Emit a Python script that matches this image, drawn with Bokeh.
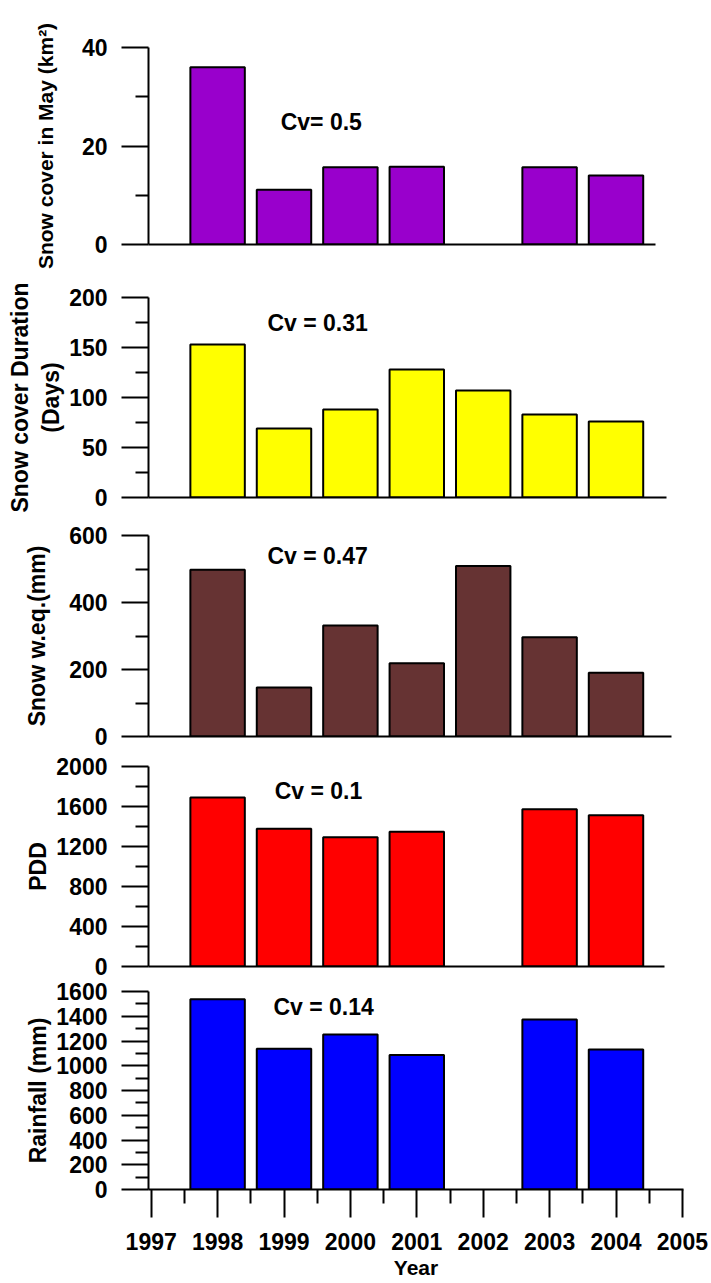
from bokeh.plotting import figure
from bokeh.layouts import column
from bokeh.models import FixedTicker, Label, Range1d
from bokeh.embed import file_html
from bokeh.resources import INLINE

# ---------------- data ----------------
snow_may_years = [1998, 1999, 2000, 2001, 2003, 2004]
snow_may = [36.0, 11.1, 15.7, 15.8, 15.7, 14.0]

duration_years = [1998, 1999, 2000, 2001, 2002, 2003, 2004]
duration = [153, 69, 88, 128, 107, 83, 76]

swe_years = [1998, 1999, 2000, 2001, 2002, 2003, 2004]
swe = [498, 146, 331, 219, 509, 296, 190]

pdd_years = [1998, 1999, 2000, 2001, 2003, 2004]
pdd = [1690, 1377, 1293, 1347, 1573, 1513]

rain_years = [1998, 1999, 2000, 2001, 2003, 2004]
rain = [1538, 1137, 1252, 1086, 1373, 1132]

cv_texts = ["Cv= 0.5", "Cv = 0.31", "Cv = 0.47", "Cv = 0.1", "Cv = 0.14"]
y_labels = ["Snow cover in May (km\u00b2)", "Snow cover Duration\n(Days)",
            "Snow w.eq.(mm)", "PDD", "Rainfall (mm)"]
year_ticks = [1997, 1998, 1999, 2000, 2001, 2002, 2003, 2004, 2005]
x_label = "Year"

# ---------------- layout / style ----------------
FONT = "Liberation Sans"
PX0 = 150.7      # pixel of 1997
PXY = 66.4       # pixels per year
LEFT = 148       # common frame left (px)
RIGHT = 28       # common right border (px)

panels = [
    dict(yrs=snow_may_years, vals=snow_may, color="#9900CC", ymax=40, major=20, minor=10,
         end_px=655, top=47, fh=197, bot=34, als=22, lfs="21px", cvx=1998.95, cvy=24.8),
    dict(yrs=duration_years, vals=duration, color="#FFFF00", ymax=200, major=50, minor=25,
         end_px=666, top=19, fh=200, bot=18, als=2, lfs="23px", cvx=1998.75, cvy=175),
    dict(yrs=swe_years, vals=swe, color="#663333", ymax=600, major=200, minor=100,
         end_px=671, top=20, fh=201, bot=15, als=16, lfs="23px", cvx=1998.75, cvy=538),
    dict(yrs=pdd_years, vals=pdd, color="#FF0000", ymax=2000, major=400, minor=200,
         end_px=664, top=15, fh=200, bot=13, als=2, lfs="23px", cvx=1998.86, cvy=1756),
    dict(yrs=rain_years, vals=rain, color="#0000FF", ymax=1600, major=200, minor=100,
         end_px=683, top=12, fh=199, bot=91, als=2, lfs="23px", cvx=1998.84, cvy=1474),
]

xs = 1997 + (LEFT - PX0) / PXY

figs = []
for i, d in enumerate(panels):
    last = (i == len(panels) - 1)
    fw = d["end_px"] - LEFT
    W = LEFT + fw + RIGHT
    H = d["top"] + d["fh"] + d["bot"]
    xe = xs + fw / PXY

    p = figure(width=W, height=H, x_range=Range1d(xs, xe), y_range=Range1d(0, d["ymax"]),
               output_backend="svg", toolbar_location=None,
               min_border_left=LEFT, min_border_right=RIGHT,
               min_border_top=d["top"], min_border_bottom=d["bot"])
    p.outline_line_color = None
    p.xgrid.visible = False
    p.ygrid.visible = False
    p.background_fill_color = "white"
    p.border_fill_color = "white"

    p.vbar(x=d["yrs"], top=d["vals"], bottom=0, width=0.82,
           fill_color=d["color"], line_color="black", line_width=2)

    majors = list(range(0, d["ymax"] + 1, d["major"]))
    minors = [v for v in range(0, d["ymax"] + 1, d["minor"]) if v not in majors]
    ya = p.yaxis[0]
    ya.ticker = FixedTicker(ticks=majors, minor_ticks=minors)
    ya.axis_line_width = 2
    ya.major_tick_line_width = 2
    ya.minor_tick_line_width = 2
    ya.major_tick_out = 27
    ya.major_tick_in = 0
    ya.minor_tick_out = 13
    ya.minor_tick_in = 0
    ya.major_label_standoff = 14
    ya.major_label_text_font = FONT
    ya.major_label_text_font_style = "bold"
    ya.major_label_text_font_size = "23px"
    ya.major_label_text_color = "black"
    ya.axis_label = y_labels[i]
    ya.axis_label_text_font = FONT
    ya.axis_label_text_font_style = "bold"
    ya.axis_label_text_font_size = d["lfs"]
    ya.axis_label_text_color = "black"
    ya.axis_label_standoff = d["als"]

    xa = p.xaxis[0]
    xa.axis_line_width = 2
    if last:
        xa.ticker = FixedTicker(ticks=year_ticks,
                                minor_ticks=[y + 0.5 for y in year_ticks[:-1]])
        xa.major_tick_line_width = 2
        xa.minor_tick_line_width = 2
        xa.major_tick_out = 28
        xa.major_tick_in = 0
        xa.minor_tick_out = 14
        xa.minor_tick_in = 0
        xa.major_label_standoff = 15
        xa.major_label_text_font = FONT
        xa.major_label_text_font_style = "bold"
        xa.major_label_text_font_size = "23px"
        xa.major_label_text_color = "black"
        xa.axis_label = x_label
        xa.axis_label_text_font = FONT
        xa.axis_label_text_font_style = "bold"
        xa.axis_label_text_font_size = "21px"
        xa.axis_label_text_color = "black"
        xa.axis_label_standoff = 3
    else:
        xa.ticker = FixedTicker(ticks=[])
        xa.major_tick_line_color = None
        xa.minor_tick_line_color = None
        xa.major_label_text_font_size = "0px"

    p.add_layout(Label(x=d["cvx"], y=d["cvy"], text=cv_texts[i], text_font=FONT,
                       text_font_style="bold", text_font_size="23px",
                       text_baseline="middle", text_align="left", text_color="black"))
    figs.append(p)

layout = column(*figs, spacing=0)
open("out.html", "w").write(file_html(layout, INLINE))
